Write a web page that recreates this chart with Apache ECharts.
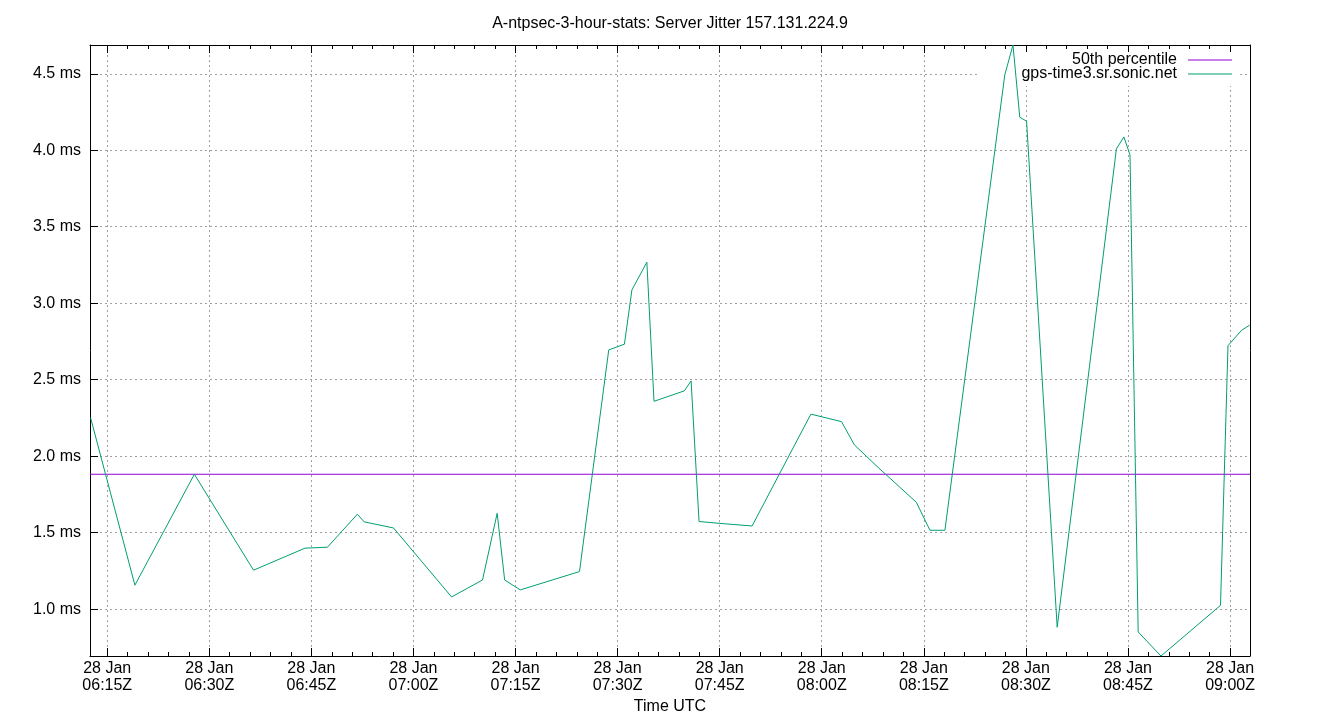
<!DOCTYPE html>
<html>
<head>
<meta charset="utf-8">
<script src="https://cdn.jsdelivr.net/npm/echarts@6/dist/echarts.min.js"></script>
<style>
html,body{margin:0;padding:0;background:#fff;}
#chart{width:1340px;height:720px;}
</style>
</head>
<body>
<div id="chart"></div>
<script>
// ---- data (times UTC, 28 Jan) ----
const pointTimes = [
  "06:12:33","06:19:04","06:27:48","06:36:30","06:44:04","06:47:21","06:51:46","06:52:45",
  "06:57:04","07:05:36","07:10:09","07:12:18","07:13:24","07:15:42","07:24:24","07:28:42",
  "07:31:00","07:32:06","07:34:18","07:35:21","07:39:48","07:40:48","07:41:58","07:45:48",
  "07:49:46","07:58:24","08:02:54","08:04:48","08:08:24","08:13:54","08:15:54","08:18:06",
  "08:26:54","08:28:06","08:29:06","08:30:06","08:34:36","08:43:18","08:44:24","08:45:18",
  "08:46:30","08:49:51","08:58:36","08:59:42","09:01:42","09:02:54"
];
const jitterMs = [
  2.252,1.157,1.882,1.255,1.399,1.405,1.621,1.571,
  1.531,1.080,1.191,1.627,1.191,1.126,1.246,2.695,
  2.732,3.087,3.268,2.359,2.427,2.492,1.573,1.558,
  1.544,2.275,2.226,2.074,1.922,1.699,1.516,1.516,
  4.493,4.688,4.216,4.190,0.882,4.009,4.087,3.970,
  0.851,0.694,1.025,2.723,2.823,2.857
];
const percentile50 = 1.882;
const xRangeTimes = ["06:12:28","09:02:56"];
const yRange = [0.694, 4.688];
const xTickTimes = ["06:15","06:30","06:45","07:00","07:15","07:30","07:45","08:00","08:15","08:30","08:45","09:00"];
const yTickValues = [1.0,1.5,2.0,2.5,3.0,3.5,4.0,4.5];
const dateLabel = "28 Jan";
const seriesName = "gps-time3.sr.sonic.net";
const pctName = "50th percentile";
const titleText = "A-ntpsec-3-hour-stats: Server Jitter 157.131.224.9";

// ---- helpers ----
function toMin(s){ const p=s.split(':').map(Number); return p[0]*60+p[1]+(p[2]||0)/60; }
function fmt2(n){ return (n<10?'0':'')+n; }
const xMin = toMin(xRangeTimes[0]), xMax = toMin(xRangeTimes[1]);
const majorTicks = xTickTimes.map(toMin);
const minorTicks = [];
for (let m = majorTicks[0]-15; m <= majorTicks[majorTicks.length-1]+15; m += 3) {
  if (m > xMin && m < xMax && (Math.round(m) % 15) !== 0) minorTicks.push(m);
}
const lineData = pointTimes.map((t,i)=>[toMin(t), jitterMs[i]]);
const pctData = [[xMin, percentile50],[xMax, percentile50]];

const FONT = "'Liberation Sans', Arial, sans-serif";
const gridLine = {show:true, lineStyle:{color:'#a0a0a0', width:1, type:[2,3]}};
const axisLineBlack = {show:true, onZero:false, lineStyle:{color:'#000', width:1}};
const legendIcon = 'path://M0,0H44V1H0Z';

const chart = echarts.init(document.getElementById('chart'), null, {renderer:'canvas'});
chart.setOption({
  animation:false,
  backgroundColor:'#fff',
  title:{
    text:titleText, left:'center', top:11,
    textStyle:{fontFamily:FONT, fontSize:16, fontWeight:'normal', color:'#000'}
  },
  legend:{
    orient:'vertical', right:100, top:52, align:'right', padding:[0,8,4,43], itemGap:-2,
    backgroundColor:'#fff', z:1,
    itemWidth:44, itemHeight:1,
    itemStyle:{borderWidth:0},
    data:[
      {name:pctName, icon:legendIcon, itemStyle:{color:'#9400d3', borderWidth:0}},
      {name:seriesName, icon:legendIcon, itemStyle:{color:'#009e73', borderWidth:0}}
    ],
    textStyle:{fontFamily:FONT, fontSize:16, color:'#000', lineHeight:11, padding:[0,6,0,0]}
  },
  grid:{left:90, right:90, top:45, bottom:64, containLabel:false},
  xAxis:[
    {type:'value', position:'bottom', min:xMin, max:xMax,
     name:'Time UTC', nameLocation:'middle', nameGap:40,
     nameTextStyle:{fontFamily:FONT, fontSize:16, color:'#000'},
     axisLine:axisLineBlack,
     axisTick:{show:true, inside:true, length:8, customValues:majorTicks, lineStyle:{color:'#000'}},
     axisLabel:{show:true, customValues:majorTicks, margin:4, fontFamily:FONT, fontSize:16, color:'#000', lineHeight:17,
       formatter:function(v){ const r=Math.round(v); return dateLabel+'\n'+fmt2(Math.floor(r/60))+':'+fmt2(r%60)+'Z'; }},
     splitLine:gridLine},
    {type:'value', position:'bottom', min:xMin, max:xMax,
     axisLine:{show:false}, axisLabel:{show:false}, splitLine:{show:false},
     axisTick:{show:true, inside:true, length:4, customValues:minorTicks, lineStyle:{color:'#000'}}},
    {type:'value', position:'top', min:xMin, max:xMax,
     axisLine:axisLineBlack, axisLabel:{show:false}, splitLine:{show:false},
     axisTick:{show:true, inside:true, length:8, customValues:majorTicks, lineStyle:{color:'#000'}}},
    {type:'value', position:'top', min:xMin, max:xMax,
     axisLine:{show:false}, axisLabel:{show:false}, splitLine:{show:false},
     axisTick:{show:true, inside:true, length:4, customValues:minorTicks, lineStyle:{color:'#000'}}}
  ],
  yAxis:[
    {type:'value', position:'left', min:yRange[0], max:yRange[1],
     axisLine:axisLineBlack,
     axisTick:{show:true, inside:true, length:8, customValues:yTickValues, lineStyle:{color:'#000'}},
     axisLabel:{show:true, customValues:yTickValues, margin:9, fontFamily:FONT, fontSize:16, color:'#000',
       formatter:function(v){ return v.toFixed(1)+' ms'; }},
     splitLine:gridLine},
    {type:'value', position:'right', min:yRange[0], max:yRange[1],
     axisLine:axisLineBlack, axisTick:{show:false}, axisLabel:{show:false}, splitLine:{show:false}}
  ],
  series:[
    {name:pctName, type:'line', xAxisIndex:0, yAxisIndex:0, data:pctData,
     showSymbol:false, symbol:'none', legendIcon:legendIcon, color:'#9400d3', lineStyle:{color:'#9400d3', width:1}, z:3},
    {name:seriesName, type:'line', xAxisIndex:0, yAxisIndex:0, data:lineData,
     showSymbol:false, symbol:'none', legendIcon:legendIcon, color:'#009e73', lineStyle:{color:'#009e73', width:1}, z:4}
  ]
});
</script>
</body>
</html>
